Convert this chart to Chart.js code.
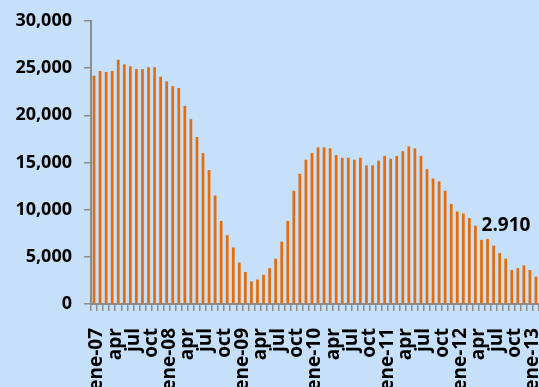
<!DOCTYPE html>
<html>
<head>
<meta charset="utf-8">
<script src="https://cdn.jsdelivr.net/npm/chart.js@4/dist/chart.umd.min.js"></script>
<style>
  html, body { margin: 0; padding: 0; background: #C6E0FA; overflow: hidden; }
  canvas { display: block; }
</style>
</head>
<body>
<canvas id="c" width="539" height="387"></canvas>
<script>
// Monthly series, ene-07 .. feb-13
const months = [
  'ene-07','feb-07','mar-07','abr-07','may-07','jun-07','jul-07','ago-07','sep-07','oct-07','nov-07','dic-07',
  'ene-08','feb-08','mar-08','abr-08','may-08','jun-08','jul-08','ago-08','sep-08','oct-08','nov-08','dic-08',
  'ene-09','feb-09','mar-09','abr-09','may-09','jun-09','jul-09','ago-09','sep-09','oct-09','nov-09','dic-09',
  'ene-10','feb-10','mar-10','abr-10','may-10','jun-10','jul-10','ago-10','sep-10','oct-10','nov-10','dic-10',
  'ene-11','feb-11','mar-11','abr-11','may-11','jun-11','jul-11','ago-11','sep-11','oct-11','nov-11','dic-11',
  'ene-12','feb-12','mar-12','abr-12','may-12','jun-12','jul-12','ago-12','sep-12','oct-12','nov-12','dic-12',
  'ene-13','feb-13'
];

const values = [
  24200, 24700, 24600, 24700, 25900, 25400, 25200, 24900, 24900, 25100, 25100, 24100,
  23600, 23100, 22900, 21000, 19600, 17700, 16000, 14200, 11500, 8800, 7300, 6000,
  4400, 3400, 2400, 2600, 3100, 3800, 4800, 6600, 8800, 12000, 13800, 15300,
  16000, 16600, 16600, 16500, 15800, 15500, 15500, 15300, 15500, 14700, 14700, 15200,
  15700, 15400, 15700, 16200, 16700, 16500, 15700, 14300, 13300, 13000, 12000, 10600,
  9800, 9600, 9100, 8300, 6800, 6900, 6200, 5400, 4800, 3600, 3800, 4100,
  3600, 2910
];

// Quarterly axis labels (every third month)
const tickLabels = [
  'ene-07','apr','jul','oct',
  'ene-08','apr','jul','oct',
  'ene-09','apr','jul','oct',
  'ene-10','apr','jul','oct',
  'ene-11','apr','jul','oct',
  'ene-12','apr','jul','oct',
  'ene-13'
];

const yTicks = [0, 5000, 10000, 15000, 20000, 25000, 30000];

const FONT = '"Open Sans", "DejaVu Sans", sans-serif';
const AXIS_GRAY = '#8C8C8C';
const BAR_ORANGE = '#E46C0A';

// Callout with the latest value, written with a point as thousands separator
const lastValueLabel = {
  id: 'lastValueLabel',
  afterDatasetsDraw(chart) {
    const meta = chart.getDatasetMeta(0);
    const i = values.length - 1;
    const bar = meta.data[i];
    const txt = values[i].toLocaleString('de-DE');
    const ctx = chart.ctx;
    ctx.save();
    ctx.font = 'bold 19px ' + FONT;
    ctx.fillStyle = '#000';
    ctx.textAlign = 'center';
    ctx.textBaseline = 'middle';
    ctx.fillText(txt, bar.x - 30, bar.y - 51);
    ctx.restore();
  }
};

new Chart(document.getElementById('c'), {
  type: 'bar',
  data: {
    labels: months,
    datasets: [{
      data: values,
      backgroundColor: BAR_ORANGE,
      borderWidth: 0,
      barPercentage: 0.45,
      categoryPercentage: 1.0
    }]
  },
  options: {
    responsive: false,
    devicePixelRatio: 1,
    animation: false,
    layout: { padding: { top: 21, right: 0, bottom: 0, left: 0 } },
    plugins: {
      legend: { display: false },
      tooltip: { enabled: false }
    },
    scales: {
      x: {
        offset: true,
        grid: {
          offset: true,
          drawOnChartArea: false,
          drawTicks: true,
          tickLength: 7,
          color: AXIS_GRAY,
          lineWidth: 1.5
        },
        border: { display: true, color: AXIS_GRAY, width: 2 },
        ticks: {
          autoSkip: false,
          minRotation: 90,
          maxRotation: 90,
          padding: 17,
          labelOffset: 3,
          color: '#000',
          font: { family: FONT, size: 19, weight: 'bold' },
          callback: (v, i) => (i % 3 === 0 ? tickLabels[i / 3] : '')
        },
        afterFit(scale) {
          scale.height = 83;
          scale.paddingLeft = 0;
          scale.paddingRight = 0;
        }
      },
      y: {
        min: 0,
        max: 30000,
        afterBuildTicks(scale) { scale.ticks = yTicks.map(v => ({ value: v })); },
        grid: {
          drawOnChartArea: false,
          drawTicks: true,
          tickLength: 7,
          color: AXIS_GRAY,
          lineWidth: 1.5
        },
        border: { display: true, color: AXIS_GRAY, width: 2 },
        ticks: {
          padding: 12,
          color: '#000',
          font: { family: FONT, size: 18, weight: 'bold' },
          callback: v => v.toLocaleString('en-US')
        },
        afterFit(scale) {
          scale.width = 91;
          scale.paddingTop = 0;
          scale.paddingBottom = 0;
        }
      }
    }
  },
  plugins: [lastValueLabel]
});
</script>
</body>
</html>
